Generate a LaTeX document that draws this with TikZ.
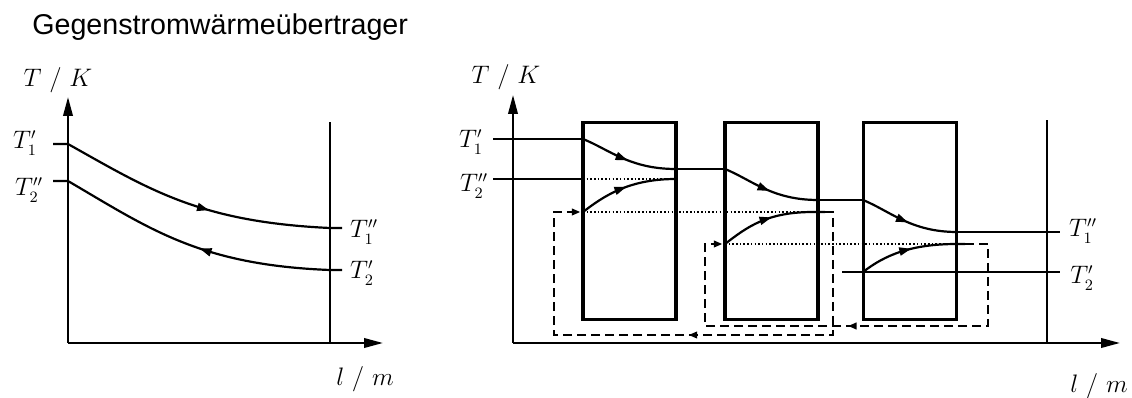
\documentclass[tikz,border=0pt]{standalone}
\usepackage{fontspec}
\newfontfamily\titlefont{Liberation Sans}
\usetikzlibrary{arrows.meta,decorations.markings}

\begin{document}
\begin{tikzpicture}[x=0.02cm, y=-0.02cm,
    axis/.style={line width=1.25pt, -{Triangle[length=3.8mm,width=1.9mm]}},
    stream/.style={line width=1.25pt},
    stage/.style={draw, line width=2pt, minimum width=1.86cm,
                  minimum height=3.94cm, inner sep=0pt},
    retour/.style={line width=1.2pt, dash pattern=on 1.8mm off 1mm,
                   -{Triangle[length=1.7mm,width=1.3mm]}},
    level/.style={line width=1.2pt, dash pattern=on 0.9pt off 1.2pt},
    lbl/.style={font=\fontsize{13.5}{16}\selectfont, inner sep=0pt},
    flowarrow/.style={postaction={decorate}, decoration={markings,
        mark=at position #1 with {\arrow{Triangle[length=2.4mm,width=1.6mm]}}}},
    backarrow/.style={postaction={decorate}, decoration={markings,
        mark=at position #1 with {\arrow{Triangle[length=1.7mm,width=1.3mm]}}}}
  ]
  \useasboundingbox (0,0) rectangle (1132,398);

  \node[anchor=base west, inner sep=0pt,
        font=\titlefont\fontsize{16.3}{19}\selectfont] (title) at (32,35)
    {Gegenstromwärmeübertrager};

  % Left plot: ideal counterflow
  \coordinate (lo) at (68,343);
  \coordinate (ly) at (68,97);
  \coordinate (lx) at (383,343);
  \coordinate (lend) at (330,343);
  \coordinate (lendtop) at (330,122);
  \draw[axis] (lo) -- (ly);
  \draw[axis] (lo) -- (lx);
  \draw[stream] (lend) -- (lendtop);
  \node[lbl] (lTK) at (58,80) {$T~/~K$};
  \node[lbl] (llm) at (365,379) {$l~/~m$};

  \coordinate (lh0) at (53,144);
  \coordinate (lh1) at (68,144);
  \coordinate (lh2) at (330,228);
  \coordinate (lh3) at (342,228);
  \draw[stream, flowarrow=0.56] (lh0) -- (lh1)
    .. controls +(82,46) and +(-130,-6) .. (lh2) -- (lh3);
  \coordinate (lc0) at (342,270);
  \coordinate (lc1) at (330,270);
  \coordinate (lc2) at (68,181);
  \coordinate (lc3) at (53,181);
  \draw[stream, flowarrow=0.47] (lc0) -- (lc1)
    .. controls +(-130,-5) and +(82,48) .. (lc2) -- (lc3);

  \node[lbl] (lT1in) at (25,143) {$T_1'$};
  \node[lbl] (lT2out) at (29,190) {$T_2''$};
  \node[lbl] (lT1out) at (364,232) {$T_1''$};
  \node[lbl] (lT2in) at (362,273) {$T_2'$};

  % Right plot: three stages
  \coordinate (ro) at (513,343);
  \coordinate (ry) at (513,95);
  \coordinate (rx) at (1120,343);
  \coordinate (rend) at (1047,343);
  \coordinate (rendtop) at (1047,120);
  \draw[axis] (ro) -- (ry);
  \draw[axis] (ro) -- (rx);
  \draw[stream] (rend) -- (rendtop);
  \node[lbl] (rTK) at (506,77) {$T~/~K$};
  \node[lbl] (rlm) at (1099,386) {$l~/~m$};

  \node[stage] (s1) at (629.5,221) {};
  \node[stage] (s2) at (771.5,221) {};
  \node[stage] (s3) at (910,221) {};

  % Hot stream
  \coordinate (h0) at (493,139);
  \coordinate (h1) at (583,139);
  \coordinate (h2) at (676,169);
  \coordinate (h3) at (725,169);
  \coordinate (h4) at (818,200);
  \coordinate (h5) at (863,200);
  \coordinate (h6) at (957,232);
  \coordinate (h7) at (1060,232);
  \draw[stream] (h0) -- (h1);
  \draw[stream] (h2) -- (h3);
  \draw[stream] (h4) -- (h5);
  \draw[stream] (h6) -- (h7);
  \foreach \a/\b in {h1/h2, h3/h4, h5/h6}
    \draw[stream, flowarrow=0.5] (\a) .. controls +(27,11) and +(-46,0) .. (\b);

  % Cold stream
  \coordinate (c0) at (493,179);
  \coordinate (c1) at (583,179);
  \coordinate (c2) at (676,179);
  \coordinate (c3) at (583,212);
  \coordinate (c4) at (813,212);
  \coordinate (c5) at (825,212);
  \coordinate (c6) at (725,244);
  \coordinate (c7) at (957,244);
  \coordinate (c8) at (965,244);
  \coordinate (c9) at (863,272);
  \coordinate (c10) at (842,272);
  \coordinate (c11) at (1060,272);
  \draw[stream] (c0) -- (c1);
  \draw[stream] (c10) -- (c11);
  \draw[stream, flowarrow=0.5] (c3) .. controls +(22,-17) and +(-46,0) .. (c2);
  \draw[stream, flowarrow=0.5] (c6) .. controls +(22,-17) and +(-46,0) .. (c4) -- (c5);
  \draw[stream, flowarrow=0.5] (c9) .. controls +(22,-17) and +(-46,0) .. (c7) -- (c8);

  % Temperature levels
  \draw[level] (c1) -- (c2);
  \draw[level] (c3) -- (c5);
  \draw[level] (c6) -- (c7);

  % Returns between stages
  \draw[retour, backarrow=0.49, shorten >=1.5pt] (c5) -- ++(8,0) -- ++(0,123)
    -- ++(-279,0) -- ++(0,-123) -- (c3);
  \draw[retour, backarrow=0.5, shorten >=1.5pt] (c8) -- ++(23,0) -- ++(0,82)
    -- ++(-283,0) -- ++(0,-82) -- (c6);

  \node[lbl] (rT1in) at (471,142) {$T_1'$};
  \node[lbl] (rT2out) at (474,186) {$T_2''$};
  \node[lbl] (rT1out) at (1083,231) {$T_1''$};
  \node[lbl] (rT2in) at (1082,278) {$T_2'$};
\end{tikzpicture}
\end{document}
